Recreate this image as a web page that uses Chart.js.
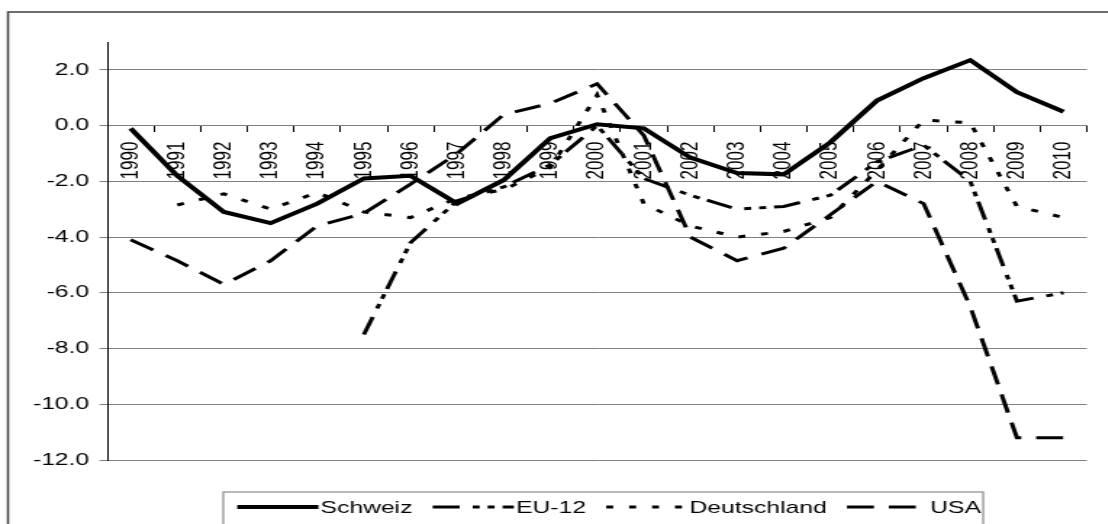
<!DOCTYPE html>
<html>
<head>
<meta charset="utf-8">
<script src="https://cdn.jsdelivr.net/npm/chart.js@4/dist/chart.umd.min.js"></script>
<style>
  html, body { margin: 0; padding: 0; background: #fff; overflow: hidden; }
  /* the original picture is stretched sideways, so draw narrow and widen it */
  #wrap {
    position: absolute; left: 0; top: 0;
    width: 764px; height: 524px;
    transform: scaleX(1.45); transform-origin: 0 0;
  }
</style>
</head>
<body>
<div id="wrap"><canvas id="chart"></canvas></div>
<script>
var years = ['1990', '1991', '1992', '1993', '1994', '1995', '1996', '1997', '1998', '1999', '2000',
             '2001', '2002', '2003', '2004', '2005', '2006', '2007', '2008', '2009', '2010'];

var schweiz = [-0.1, -1.8, -3.1, -3.5, -2.8, -1.9, -1.8, -2.8, -1.95, -0.45, 0.05,
               -0.1, -1.15, -1.7, -1.75, -0.6, 0.9, 1.7, 2.35, 1.2, 0.5];
var eu12 = [null, null, null, null, null, -7.5, -4.2, -2.7, -2.2, -1.4, 0.0,
            -1.9, -2.5, -3.0, -2.9, -2.5, -1.3, -0.7, -2.0, -6.3, -6.0];
var deutschland = [null, -2.85, -2.45, -3.0, -2.4, -3.1, -3.3, -2.6, -2.3, -1.5, 1.1,
                   -2.8, -3.6, -4.0, -3.8, -3.3, -1.6, 0.2, 0.1, -2.9, -3.3];
var usa = [-4.1, -4.85, -5.7, -4.85, -3.6, -3.15, -2.1, -1.0, 0.4, 0.8, 1.5,
           -0.35, -4.0, -4.85, -4.4, -3.2, -2.0, -2.8, -6.5, -11.2, -11.2];

var yTicks = [-12, -10, -8, -6, -4, -2, 0, 2];

var FONT = '"Liberation Sans", Arial, sans-serif';

// outer frame of the picture
var framePlugin = {
  id: 'frame',
  beforeDraw: function (chart) {
    var ctx = chart.ctx;
    ctx.save();
    ctx.strokeStyle = '#404040';
    ctx.lineWidth = 1.5;
    ctx.strokeRect(5.5, 12, chart.width + 20, chart.height + 20);
    ctx.restore();
  }
};

// boxed legend under the plot, one row
var legendPlugin = {
  id: 'boxLegend',
  afterDraw: function (chart) {
    var ctx = chart.ctx;
    var sets = chart.data.datasets;
    var boxLeft = 154, boxTop = 492, y = 507;
    var sample = 56, x = boxLeft + 9.6;

    ctx.save();
    ctx.font = '17px ' + FONT;
    ctx.textBaseline = 'middle';
    ctx.fillStyle = '#000';

    for (var i = 0; i < sets.length; i++) {
      var ds = sets[i];
      ctx.beginPath();
      ctx.setLineDash(ds.borderDash || []);
      ctx.lineWidth = ds.borderWidth;
      ctx.strokeStyle = ds.borderColor;
      ctx.lineCap = 'butt';
      ctx.moveTo(x, y);
      ctx.lineTo(x + sample, y);
      ctx.stroke();
      x += sample + 1.5;
      ctx.fillText(ds.label, x, y + 1);
      x += ctx.measureText(ds.label).width;
      if (i < sets.length - 1) x += 14;
    }

    ctx.setLineDash([]);
    ctx.lineWidth = 1.2;
    ctx.strokeStyle = '#8a8a8a';
    ctx.strokeRect(boxLeft, boxTop, x + 1.5 - boxLeft, 60);
    ctx.restore();
  }
};

new Chart(document.getElementById('chart'), {
  type: 'line',
  data: {
    labels: years,
    datasets: [
      { label: 'Schweiz', data: schweiz, borderColor: '#000', borderWidth: 4, borderDash: [] },
      { label: 'EU-12', data: eu12, borderColor: '#000', borderWidth: 3, borderDash: [18.6, 9, 4.8, 5.5, 4.8, 5.5] },
      { label: 'Deutschland', data: deutschland, borderColor: '#000', borderWidth: 3, borderDash: [4.8, 11] },
      { label: 'USA', data: usa, borderColor: '#000', borderWidth: 3, borderDash: [18.6, 10.3] }
    ]
  },
  options: {
    responsive: true,
    maintainAspectRatio: false,
    animation: false,
    layout: { padding: { left: 0, top: 42, right: 4, bottom: 64 } },
    elements: {
      point: { radius: 0, hoverRadius: 0 },
      line: { tension: 0, fill: false, borderCapStyle: 'butt' }
    },
    plugins: {
      legend: { display: false },
      tooltip: { enabled: false }
    },
    scales: {
      x: {
        type: 'category',
        position: { y: 0 },
        offset: true,
        grid: { offset: true, drawOnChartArea: false, drawTicks: true, tickLength: 6, color: '#000' },
        border: { display: true, color: '#808080', width: 1 },
        ticks: {
          autoSkip: false, minRotation: 90, maxRotation: 90, padding: 10,
          color: '#000', font: { family: FONT, size: 17 }
        }
      },
      y: {
        min: -12,
        max: 3,
        afterBuildTicks: function (scale) {
          scale.ticks = yTicks.map(function (v) { return { value: v }; });
        },
        afterFit: function (scale) {
          scale.width = 74;
        },
        grid: { color: '#808080', lineWidth: 1, tickLength: 5.5 },
        border: { display: true, color: '#000', width: 1 },
        ticks: {
          padding: 7,
          color: '#000',
          font: { family: FONT, size: 17 },
          callback: function (v) { return Number(v).toFixed(1); }
        }
      }
    }
  },
  plugins: [framePlugin, legendPlugin]
});
</script>
</body>
</html>
